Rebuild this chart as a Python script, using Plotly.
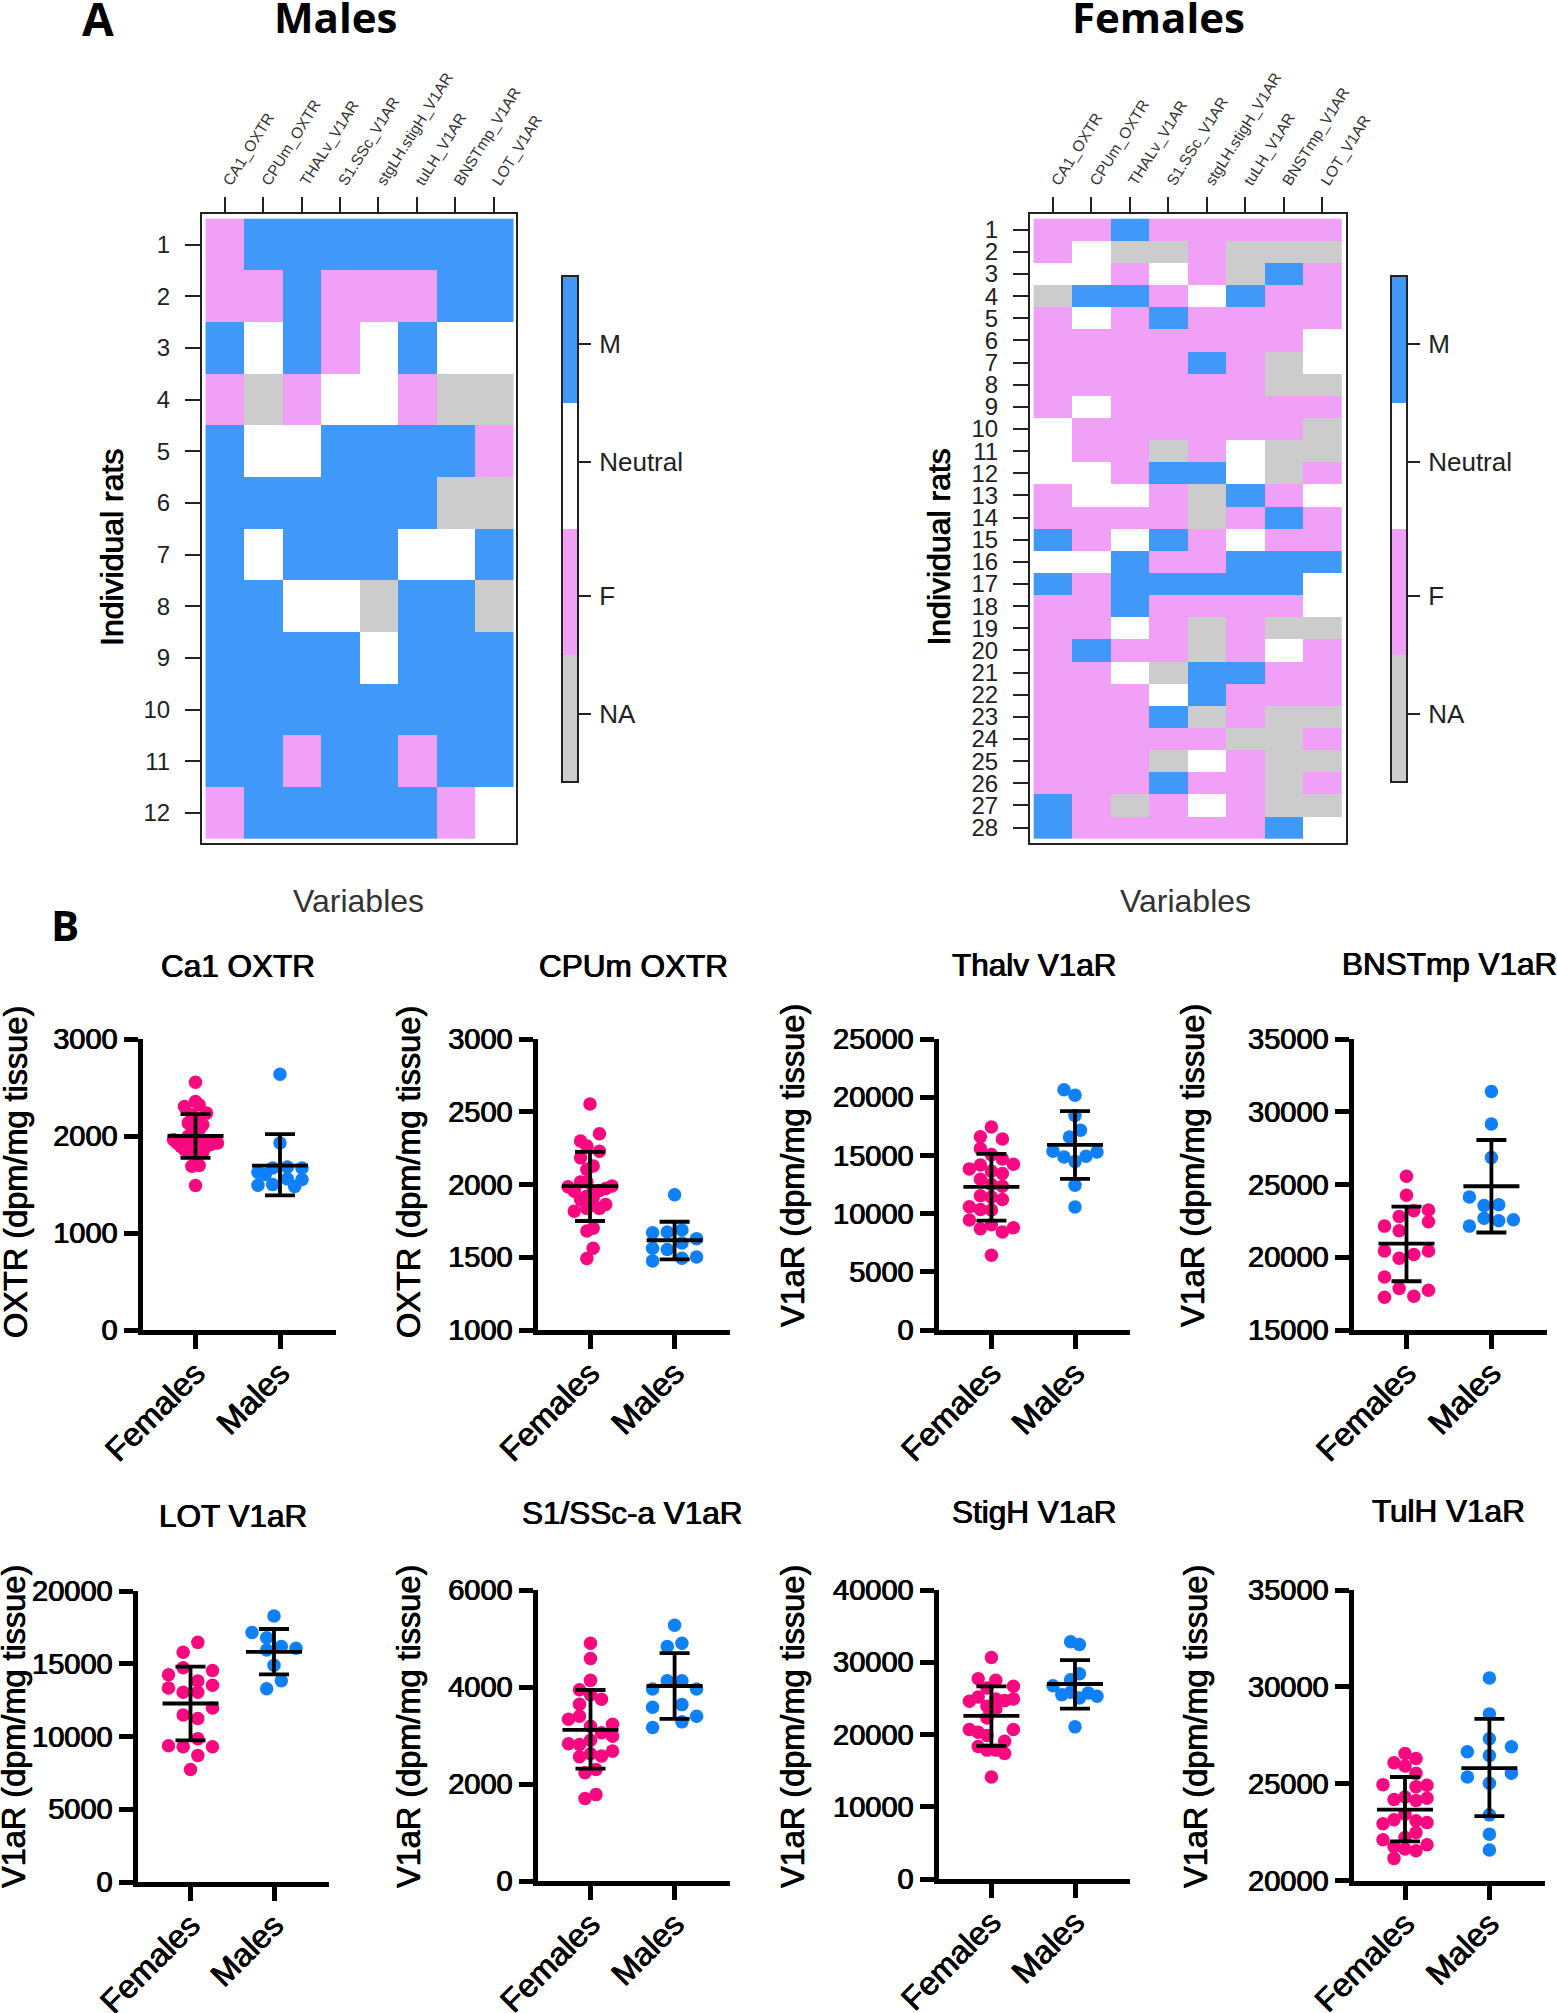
import plotly.graph_objects as go

W, H = 1557, 2013

# heatmap data, codes: 0 NA, 1 F, 2 Neutral, 3 M
NA, F, N, M = 0, 1, 2, 3
VARIABLES = ["CA1_OXTR", "CPUm_OXTR", "THALv_V1AR", "S1.SSc_V1AR",
             "stgLH.stigH_V1AR", "tuLH_V1AR", "BNSTmp_V1AR", "LOT_V1AR"]
LEVELS = ["NA", "F", "Neutral", "M"]
LEVEL_TICKS = [0.03, 0.97, 2.03, 2.97]

MALES_Z = [
    [F, M, M, M, M, M, M, M],
    [F, F, M, F, F, F, M, M],
    [M, N, M, F, N, M, N, N],
    [F, NA, F, N, N, F, NA, NA],
    [M, N, N, M, M, M, M, F],
    [M, M, M, M, M, M, NA, NA],
    [M, N, M, M, M, N, N, M],
    [M, M, N, N, NA, M, M, NA],
    [M, M, M, M, N, M, M, M],
    [M, M, M, M, M, M, M, M],
    [M, M, F, M, M, F, M, M],
    [F, M, M, M, M, M, F, N],
]
FEMALES_Z = [
    [F, F, M, F, F, F, F, F],
    [F, N, NA, NA, F, NA, NA, NA],
    [N, N, F, N, F, NA, M, F],
    [NA, M, M, F, N, M, F, F],
    [F, N, F, M, F, F, F, F],
    [F, F, F, F, F, F, F, N],
    [F, F, F, F, M, F, NA, N],
    [F, F, F, F, F, F, NA, NA],
    [F, N, F, F, F, F, F, F],
    [N, F, F, F, F, F, F, NA],
    [N, F, F, NA, F, N, NA, NA],
    [N, N, F, M, M, N, NA, F],
    [F, N, N, F, NA, M, F, N],
    [F, F, F, F, NA, F, M, F],
    [M, F, N, M, F, N, F, F],
    [N, N, M, F, F, M, M, M],
    [M, F, M, M, M, M, M, N],
    [F, F, M, F, F, F, F, N],
    [F, F, N, F, NA, F, NA, NA],
    [F, M, F, F, NA, F, N, F],
    [F, F, N, NA, M, M, F, F],
    [F, F, F, N, M, F, F, F],
    [F, F, F, M, NA, F, NA, NA],
    [F, F, F, F, F, NA, NA, F],
    [F, F, F, NA, N, F, NA, NA],
    [F, F, F, M, F, F, NA, F],
    [M, F, NA, F, N, F, NA, NA],
    [M, F, F, F, F, F, M, N],
]

# dot plots: each inner list is one row of the swarm, None = empty slot
CA1_F = [[2555], [2356], [2305, 2219, 2322, 2236], [2133, 2185, 2116], [2082, 2065],
         [1962, 1893, 1996, 1962, 1945, 1911, 1928],
         [1928, 1859, 1876, 1859, 1900, 1928], [1852, 1815, 1832], [1688, 1695], [1489]]
CA1_M = [[2637], [1928], [1626, 1602, 1671, None, 1681, None, 1671],
         [1493, None, 1500, None, 1558, 1479, 1551]]
CA1_F_STATS = [2000, 2226, 1774]
CA1_M_STATS = [1695, 2020, 1387]

CPU_F = [[2553], [2299, 2265, None, 2349], [2183, 2103, 2128, 2228],
         [1984, 1954, 2018, 2018, 1950, 1959, 1973, 1989], [1920, 1910],
         [1817, 1897, 1836, 1858, 1836, 1863], [1680, 1699], [1491, 1562]]
CPU_M = [[1929], [1475, 1553, 1493, 1502], [1562, 1674, 1598, 1628], [1669, None, 1687, None]]
CPU_F_STATS = [1989, 2224, 1749]
CPU_M_STATS = [1617, 1744, 1486]

THA_F = [[16610, 17437, 16410], [15582, 15068, 14697],
         [13841, 14184, 13641, 13441, 14241], [12956, 12500, 12357],
         [11530, 11415, 11215], [10588, 10359, 10302, None, None],
         [9446, 8704, 9046, 8418, 8790], [6421]]
THA_M = [[20634, 20177, None], [18436], [16581, 17152],
         [15354, 14869, 14469, 14926, 15297], [12443], [10559]]
THA_F_STATS = [12300, 15125, 9389]
THA_M_STATS = [15896, 18807, 12985]

BNS_F = [[25564], [24268], [22140, 22801, 23192, 23241], [None, 21822, None, 22434],
         [20428, 19938, 20183, 20428], [17248, 17859, 17321, 17737],
         [18642, None, None, None]]
BNS_M = [[31386], [29160], [26860], [22140, 22678, 22507, 22580],
         [24146, 23558, 23608, None]]
BNS_F_STATS = [20942, 23485, 18349]
BNS_M_STATS = [24880, 28060, 21700]

LOT_F = [[15794, 16470], [14248, 14731, 13814, 14538], [13330, 13041, 13041, 13524],
         [None, 11471, 11230, 11954], [9370, 9298, 9853, 9298], [None, 8694], [7728]]
LOT_M = [[18281], [17147, 16784, 16180, 16060], [15939, None], [14900], [13282, 13838]]
LOT_F_STATS = [12268, 14804, 9732]
LOT_M_STATS = [15818, 17388, 14273]

SSC_F = [[4904], [4589], [4137], [3945, 3842, 3747], [3644, None, None],
         [3336, 3397, 3192, 3055, 3233], [2829, 2815, 2904, None, 2986],
         [None, 2562, 2623, 2575, 2678], [2233, 2301], [1699, 1781]]
SSC_M = [[5274], [4836, 4904], [3959, 4130, 4130, 3959], [3582, None, 3637, 3397],
         [3165, None, 3281, None]]
SSC_F_STATS = [3117, 3938, 2315]
SSC_M_STATS = [4021, 4699, 3342]

STI_F = [[30666], [None, 27724, 26436, 27494, None, 26666],
         [24597, 25195, 23907, 24919, 24689, 24919],
         [None, None, 22298, 23539, None, None],
         [20689, 20321, 19861, None, None, 20689],
         [None, 18344, 17838, 17838, 19079, None],
         [None, None, None, None, 17378, None], [14114]]
STI_M = [[32827, 32459], [27586, 28414], [26758, 25517, 25838, 25057, 25746, 25287], [21056]]
STI_F_STATS = [22574, 26666, 18436]
STI_M_STATS = [26988, 30298, 23585]

TUL_F = [[26082, 26562, 26304], [None, 25910, 25532], [24950, None, None, 24847, 24915],
         [None, 24178, 24315, 24127, 24247], [23423],
         [22926, 23132, None, 23080, 22994], [None, 22223, 22480],
         [22103, 21743, 21622, 21537, 21846], [21142, None, None]]
TUL_M = [[30455], [28603], [27316], [26647, 26459, 26905], [25344, 25018, 25533],
         [23389], [22394], [21571]]
TUL_F_STATS = [23663, 25344, 22017]
TUL_M_STATS = [25807, 28345, 23320]

GROUPS = ["Females", "Males"]

FONT = "Liberation Sans"
PINK = "#F9087F"
BLUE = "#0F80F8"
HEAT_SCALE = [[0, "#CCCCCC"], [0.25, "#CCCCCC"], [0.25, "#F0A0F6"], [0.5, "#F0A0F6"],
              [0.5, "#FFFFFF"], [0.75, "#FFFFFF"], [0.75, "#4098F9"], [1, "#4098F9"]]
HEAVY = "0.5px 0 0 black, -0.5px 0 0 black"  # the panel B text is drawn heavier than regular
SWARM_SPAN = 44  # px width of the widest swarm row

fig = go.Figure()
layout = {}
annotations = []
axis_id = 0


def px_x(a, b):
    return [a / W, b / W]


def px_y(top, bottom):
    return [1 - bottom / H, 1 - top / H]


def text(s, x, y, size, angle=0, bold=False, color="black", family=FONT, shadow="none"):
    annotations.append(dict(
        text=f"<b>{s}</b>" if bold else s, x=x / W, y=1 - y / H, xref="paper", yref="paper",
        xanchor="center", yanchor="middle", showarrow=False, textangle=angle,
        font=dict(family=family, size=size, color=color, shadow=shadow)))


def next_axes():
    global axis_id
    axis_id += 1
    s = "" if axis_id == 1 else str(axis_id)
    return axis_id, f"x{s}", f"y{s}", f"xaxis{s}", f"yaxis{s}"


def add_heat(z, frame_x, cell_x, frame_y, cell_y, bar_x):
    n = len(z)
    _, xa, ya, xk, yk = next_axes()
    fig.add_trace(go.Heatmap(z=z, x=list(range(8)), y=list(range(1, n + 1)), zmin=0, zmax=3,
                             colorscale=HEAT_SCALE, showscale=False, xaxis=xa, yaxis=ya))
    cw = (cell_x[1] - cell_x[0]) / 8
    ch = (cell_y[1] - cell_y[0]) / n
    layout[xk] = dict(
        domain=px_x(*frame_x), anchor=ya, side="top", showgrid=False, zeroline=False, automargin=False,
        range=[-0.5 - (cell_x[0] - frame_x[0]) / cw, 7.5 + (frame_x[1] - cell_x[1]) / cw],
        tickmode="array", tickvals=list(range(8)), ticktext=VARIABLES, tickangle=-58,
        ticks="outside", ticklen=15, tickwidth=1.5, tickcolor="#222",
        tickfont=dict(family=FONT, size=15.5, color="#333"),
        showline=True, mirror=True, linecolor="#222", linewidth=2)
    layout[yk] = dict(
        domain=px_y(*frame_y), anchor=xa, showgrid=False, zeroline=False, automargin=False,
        range=[n + 0.5 + (frame_y[1] - cell_y[1]) / ch, 0.5 - (cell_y[0] - frame_y[0]) / ch],
        tickmode="array", tickvals=list(range(1, n + 1)), ticktext=[str(i) for i in range(1, n + 1)],
        ticks="outside", ticklen=15, tickwidth=1.5, tickcolor="#222", ticklabelstandoff=10,
        tickfont=dict(family=FONT, size=24, color="#222"),
        showline=True, mirror=True, linecolor="#222", linewidth=2)

    # colour key
    _, xa, ya, xk, yk = next_axes()
    fig.add_trace(go.Heatmap(z=[[0], [1], [2], [3]], x=[0], y=[0, 1, 2, 3], zmin=0, zmax=3,
                             colorscale=HEAT_SCALE, showscale=False, xaxis=xa, yaxis=ya))
    layout[xk] = dict(domain=px_x(*bar_x), anchor=ya, showgrid=False, zeroline=False, automargin=False,
                      showticklabels=False, ticks="", range=[-0.5, 0.5],
                      showline=True, mirror=True, linecolor="#222", linewidth=2)
    layout[yk] = dict(domain=px_y(277, 781), anchor=xa, side="right", showgrid=False, zeroline=False,
                      automargin=False, range=[-0.5, 3.5], tickmode="array", tickvals=LEVEL_TICKS,
                      ticktext=LEVELS, ticks="outside", ticklen=12, tickwidth=1.5, tickcolor="#222",
                      ticklabelstandoff=3, tickfont=dict(family=FONT, size=26, color="#222"),
                      showline=True, mirror=True, linecolor="#222", linewidth=2)


def swarm(rows, idx, unit):
    widest = max(len(r) for r in rows)
    step = SWARM_SPAN / (widest - 1) if widest > 1 else 0
    xs, ys = [], []
    for row in rows:
        for i, v in enumerate(row):
            if v is None:
                continue
            xs.append(idx + (i - (len(row) - 1) / 2) * step / unit)
            ys.append(v)
    return xs, ys


def add_dots(title, title_pos, ylab, ylab_pos, y0, y1, dy, geom, f_rows, m_rows, f_stats, m_stats):
    x0, x1, fem, male, top, bottom = geom
    _, xa, ya, xk, yk = next_axes()
    unit = male - fem
    for idx, rows, stats, color in [(0, f_rows, f_stats, PINK), (1, m_rows, m_stats, BLUE)]:
        xs, ys = swarm(rows, idx, unit)
        fig.add_trace(go.Scatter(x=xs, y=ys, mode="markers", xaxis=xa, yaxis=ya, name=GROUPS[idx],
                                 marker=dict(size=13.5, color=color, line=dict(width=0))))
    for idx, stats in [(0, f_stats), (1, m_stats)]:
        fig.add_trace(go.Scatter(
            x=[idx], y=[stats[0]], mode="markers", xaxis=xa, yaxis=ya, name="mean ± SD",
            marker=dict(symbol="line-ew", size=40, line=dict(width=3.8, color="black")),
            error_y=dict(type="data", symmetric=False, array=[stats[1] - stats[0]],
                         arrayminus=[stats[0] - stats[2]], width=15, thickness=3.8, color="black")))
    left = x0 + 2.5
    layout[xk] = dict(
        domain=px_x(left, x1), anchor=ya, showgrid=False, zeroline=False, automargin=False,
        range=[(left - fem) / unit, (x1 - fem) / unit],
        tickmode="array", tickvals=[0, 1], ticktext=GROUPS, tickangle=-45,
        ticks="outside", ticklen=14, tickwidth=5, tickcolor="black", ticklabelstandoff=-8,
        tickfont=dict(family=FONT, size=32.5, color="black", shadow=HEAVY),
        showline=True, linecolor="black", linewidth=5)
    layout[yk] = dict(
        domain=px_y(top, bottom - 1), anchor=xa, showgrid=False, zeroline=False, automargin=False,
        range=[y0, y1], tickmode="array", tickvals=list(range(y0, y1 + 1, dy)), tickformat="d",
        ticks="outside", ticklen=14, tickwidth=5, tickcolor="black",
        tickfont=dict(family=FONT, size=29, color="black", shadow=HEAVY),
        showline=True, linecolor="black", linewidth=5)
    text(title, title_pos[0], title_pos[1], 31.5, shadow=HEAVY)
    text(ylab, ylab_pos[0], ylab_pos[1], 32.5, angle=-90, shadow=HEAVY)


add_heat(MALES_Z, (202, 516), (205.5, 513), (213.5, 842.7), (218.7, 838.7), (563, 577))
add_heat(FEMALES_Z, (1030, 1345.7), (1033.7, 1341.7), (213.5, 842.7), (218.7, 838.7), (1392, 1406))

OXTR = "OXTR (dpm/mg tissue)"
V1AR = "V1aR (dpm/mg tissue)"
add_dots("Ca1 OXTR", (238, 966), OXTR, (16, 1172), 0, 3000, 1000,
         (140, 336, 195.5, 280, 1039, 1331), CA1_F, CA1_M, CA1_F_STATS, CA1_M_STATS)
add_dots("CPUm OXTR", (633, 966), OXTR, (409, 1172), 1000, 3000, 500,
         (535, 730, 590, 674.6, 1039, 1331), CPU_F, CPU_M, CPU_F_STATS, CPU_M_STATS)
add_dots("Thalv V1aR", (1034, 965), V1AR, (793, 1166), 0, 25000, 5000,
         (936, 1130, 991.4, 1075, 1039, 1331), THA_F, THA_M, THA_F_STATS, THA_M_STATS)
add_dots("BNSTmp V1aR", (1449, 964), V1AR, (1193, 1166), 15000, 35000, 5000,
         (1351, 1546.6, 1406.5, 1491.4, 1039, 1331), BNS_F, BNS_M, BNS_F_STATS, BNS_M_STATS)
add_dots("LOT V1aR", (233, 1516), V1AR, (14, 1727), 0, 20000, 5000,
         (135, 329, 190.5, 274, 1591, 1883), LOT_F, LOT_M, LOT_F_STATS, LOT_M_STATS)
add_dots("S1/SSc-a V1aR", (632, 1513), V1AR, (409, 1727), 0, 6000, 2000,
         (535, 730, 590.5, 674.6, 1590, 1882), SSC_F, SSC_M, SSC_F_STATS, SSC_M_STATS)
add_dots("StigH V1aR", (1034, 1512), V1AR, (793, 1727), 0, 40000, 10000,
         (936, 1130, 991.4, 1075, 1590, 1880), STI_F, STI_M, STI_F_STATS, STI_M_STATS)
add_dots("TulH V1aR", (1448, 1511), V1AR, (1196, 1727), 20000, 35000, 5000,
         (1351, 1544.6, 1405, 1489.4, 1590, 1881.5), TUL_F, TUL_M, TUL_F_STATS, TUL_M_STATS)

# panel letters and headers
text("A", 98, 18, 46, bold=True, family="Open Sans")
text("B", 65, 925, 42, bold=True, family="Open Sans")
text("Males", 335, 17, 42, bold=True, family="Open Sans")
text("Females", 1158, 17, 42, bold=True, family="Open Sans")
text("Variables", 358, 901, 32, color="#333")
text("Variables", 1185, 901, 32, color="#333")
text("Individual rats", 112, 547, 32, angle=-90, shadow=HEAVY)
text("Individual rats", 938.6, 547, 32, angle=-90, shadow=HEAVY)

fig.update_layout(width=W, height=H, margin=dict(l=0, r=0, t=0, b=0), showlegend=False,
                  plot_bgcolor="white", paper_bgcolor="white", annotations=annotations, **layout)
# page default body margin would push the figure 8px off
fig.write_html("out.html", config={"displayModeBar": False},
               post_script="document.body.style.margin='0';")
